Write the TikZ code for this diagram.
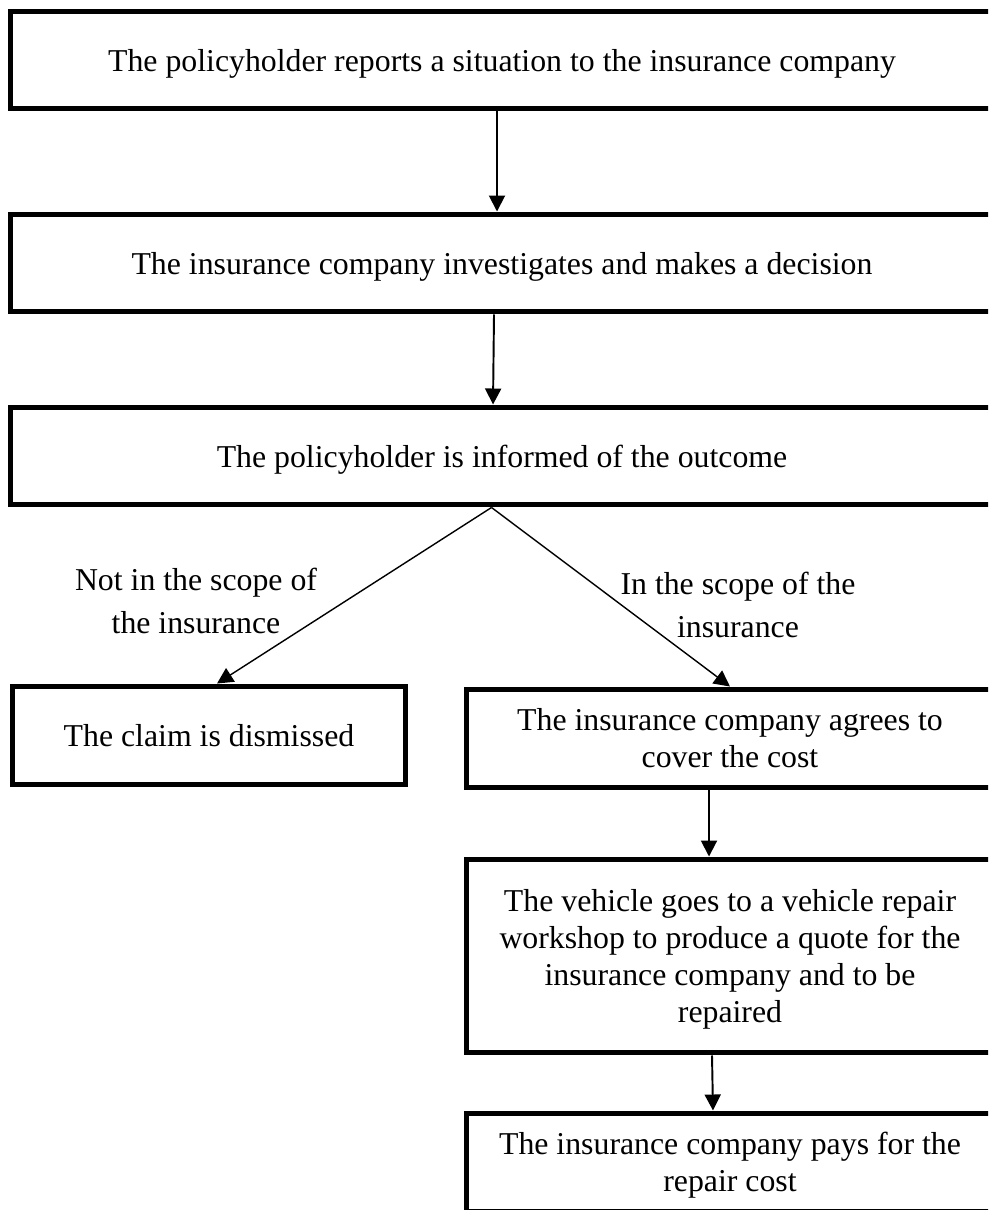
\documentclass[tikz,border=0pt]{standalone}
\usepackage{fontspec}
\setmainfont{Liberation Serif}
\usetikzlibrary{arrows.meta}
\begin{document}
\begin{tikzpicture}[
        x=0.02cm, y=-0.02cm,
        % boxes: thick black border, serif text
        box/.style={
            draw=black,
            line width=0.1cm,
            inner sep=0pt,
            align=center,
            text depth=0pt,
            minimum height=1.96cm,
            font=\fontsize{18.1}{21}\selectfont
        },
        wide/.style={minimum width=19.68cm},
        half/.style={minimum width=10.56cm},
        lbl/.style={
            align=center,
            font=\fontsize{18.1}{24}\selectfont
        },
        flow/.style={
            -{Triangle[width=0.32cm,length=0.32cm]},
            line width=1.1pt
        }
    ]

    \useasboundingbox (0,0) rectangle (988,1210);
    \clip (0,0) rectangle (988,1210);

    % --- main column ---
    \node[box, wide] (b1) at (502, 60) {The policyholder reports a situation to the insurance company};
    \node[box, wide] (b2) at (502, 263) {The insurance company investigates and makes a decision};
    \node[box, wide] (b3) at (502, 456) {The policyholder is informed of the outcome};

    % --- the two outcomes ---
    \node[box, minimum width=7.86cm] (b4) at (209, 735) {The claim is dismissed};
    \node[box, half] (b5) at (730, 738) {The insurance company agrees to\\cover the cost};
    \node[box, half, minimum height=3.88cm] (b6) at (730, 956) {The vehicle goes to a vehicle repair\\workshop to produce a quote for the\\insurance company and to be\\repaired};
    \node[box, half] (b7) at (730, 1162) {The insurance company pays for the\\repair cost};

    \node[lbl] (n1) at (196, 601) {Not in the scope of\\the insurance};
    \node[lbl] (n2) at (738, 605) {In the scope of the\\insurance};

    \draw[flow] ([xshift=-0.1cm]b1.south) -- ([xshift=-0.1cm]b2.north);
    \draw[flow] ([xshift=-0.16cm]b2.south) -- ([xshift=-0.18cm]b3.north);
    \draw[flow, line width=0.8pt] ([xshift=-0.21cm]b3.south) -- ([xshift=0.16cm]b4.north);
    \draw[flow, line width=0.8pt] ([xshift=-0.21cm]b3.south) -- (b5.north);
    \draw[flow] ([xshift=-0.42cm]b5.south) -- ([xshift=-0.42cm]b6.north);
    \draw[flow] ([xshift=-0.36cm]b6.south) -- ([xshift=-0.34cm]b7.north);

\end{tikzpicture}
\end{document}
